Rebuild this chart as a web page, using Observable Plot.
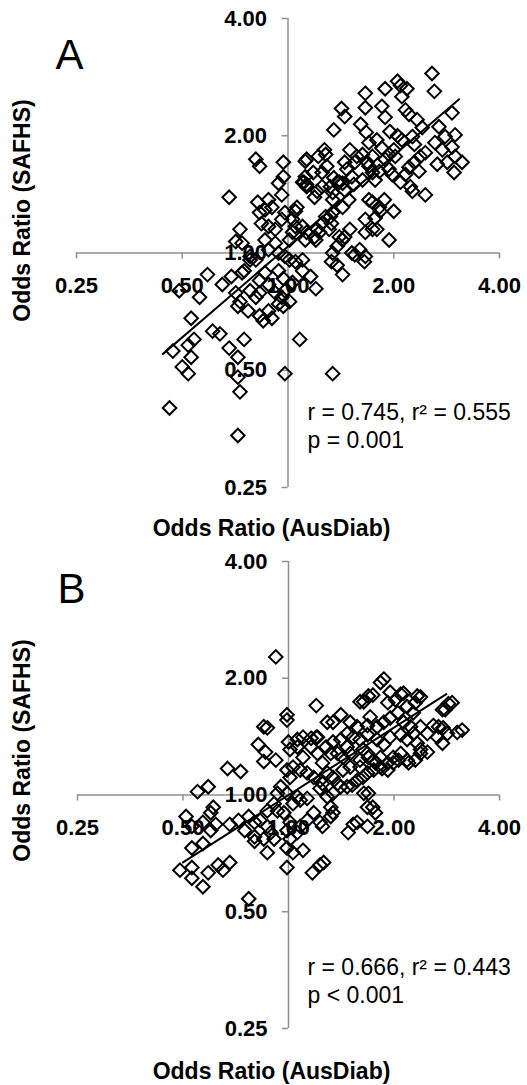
<!DOCTYPE html>
<html><head><meta charset="utf-8">
<script src="https://cdn.jsdelivr.net/npm/d3@7"></script>
<script src="https://cdn.jsdelivr.net/npm/@observablehq/plot@0.6"></script>
<style>body{margin:0;background:#fff;} #chart svg{display:block;}</style>
</head><body><div id="chart"></div>
<script>
// ---------- data ----------
const tickValues = [0.25, 0.5, 1, 2, 4];
const xTitle = "Odds Ratio (AusDiab)";
const yTitle = "Odds Ratio (SAFHS)";
const panelLetters = ["A", "B"];
const statsA = ["r = 0.745, r\u00B2 = 0.555", "p = 0.001"];
const statsB = ["r = 0.666, r\u00B2 = 0.443", "p < 0.001"];

// Panel A: odds ratios
const ausdiabA = [
2.57,2.61,1.66,1.89,2.05,2.09,2.18,2.11,1.42,1.45,
1.66,1.85,2.16,2.21,1.61,1.67,1.35,1.89,2.33,2.41,
2.93,2.69,2.99,2.80,2.62,1.95,2.05,2.11,2.26,2.29,
1.79,1.85,1.70,2.93,2.75,2.99,3.13,2.84,2.97,2.66,
2.46,2.38,2.36,2.21,2.29,2.16,2.23,2.26,2.46,2.09,
1.98,1.94,1.82,2.02,2.00,1.89,1.94,1.74,1.68,1.63,
1.57,1.55,1.50,1.45,1.47,1.70,1.74,1.77,1.52,1.54,
1.63,1.43,1.38,1.45,1.34,1.49,1.43,1.70,1.74,1.82,
1.88,1.83,2.00,1.66,1.77,1.79,1.74,1.66,1.94,1.50,
1.45,1.60,1.66,1.55,1.34,1.32,1.33,1.28,1.31,1.25,
1.21,1.23,1.19,1.20,1.40,1.38,1.34,1.43,1.33,1.12,
1.18,1.13,1.11,1.19,1.21,1.27,1.28,1.22,1.29,1.25,
1.35,1.40,1.25,1.32,1.34,0.97,0.94,0.97,0.81,0.83,
0.68,0.82,0.88,0.90,0.96,1.06,1.05,0.83,0.86,0.84,
0.88,0.92,0.98,0.96,1.03,1.05,1.10,1.03,1.01,1.12,
1.13,0.73,0.71,0.74,0.86,0.88,0.92,0.94,0.98,1.01,
1.10,0.78,0.81,1.13,1.12,1.13,1.10,1.65,1.38,1.43,
1.20,1.16,1.10,1.05,0.59,0.49,0.56,0.53,0.65,0.69,
0.74,0.71,0.73,0.72,0.77,0.78,0.81,0.83,0.83,0.86,
0.88,0.92,0.96,0.98,0.94,0.97,1.01,0.83,0.85,0.90,
0.88,0.78,0.75,0.94,0.97,1.03,0.61,0.64,0.54,0.52,
0.47,0.53,0.50,0.52,0.68,0.72,0.75,1.08,0.98,1.34,
0.72,0.73,0.46,0.72,1.52];
const safhsA = [
2.89,2.60,2.57,2.64,2.76,2.69,2.64,2.52,2.35,2.24,
2.36,2.38,2.33,2.27,2.14,2.04,2.07,2.23,2.20,2.10,
2.29,2.11,2.01,1.99,1.92,2.05,2.00,1.95,1.99,1.90,
1.95,1.86,1.92,1.87,1.84,1.77,1.71,1.71,1.61,1.69,
1.81,1.77,1.62,1.66,1.71,1.59,1.48,1.44,1.41,1.52,
1.59,1.64,1.62,1.77,1.84,1.74,1.79,1.77,1.71,1.79,
1.77,1.71,1.84,1.71,1.64,1.67,1.61,1.54,1.57,1.50,
1.54,1.51,1.52,1.45,1.37,1.37,1.31,1.37,1.35,1.31,
1.37,1.28,1.28,1.22,1.23,1.15,1.15,1.13,1.08,1.15,
1.10,1.02,0.98,0.99,1.27,1.24,1.19,1.24,1.15,1.19,
1.15,1.13,1.10,1.08,1.10,1.04,1.00,1.08,0.95,1.72,
1.61,1.50,1.52,1.39,1.44,1.84,1.79,1.77,1.67,1.61,
1.56,1.52,1.48,1.48,1.43,1.71,1.51,1.57,1.74,1.67,
1.39,1.35,1.37,1.31,1.41,1.31,1.28,1.27,1.29,1.19,
1.17,1.15,1.27,1.22,1.22,1.17,1.17,1.13,1.08,1.08,
1.13,1.15,1.07,1.06,1.08,1.02,1.06,1.00,0.98,0.96,
0.96,0.98,0.96,1.74,1.57,1.48,1.52,0.95,0.93,0.88,
0.81,0.87,0.90,0.95,0.88,0.80,0.77,0.68,0.83,0.87,
0.89,0.79,0.75,0.73,0.71,0.80,0.77,0.79,0.85,0.89,
0.83,0.79,0.77,0.80,0.74,0.73,0.75,0.69,0.67,0.68,
0.71,0.96,0.90,0.90,0.86,0.84,0.63,0.62,0.60,0.58,
0.56,0.54,0.51,0.49,0.57,0.54,0.60,0.60,0.49,0.49,
0.48,0.44,0.40,0.34,1.00];
const trendAx = [0.44, 3.07];
const trendAy = [0.55, 2.48];

// Panel B: odds ratios
const ausdiabB = [
0.92,1.87,1.83,1.69,1.95,2.09,2.33,1.60,2.86,2.75,
1.20,1.92,2.02,2.18,2.27,0.99,0.99,1.41,1.29,1.34,
1.50,1.57,1.71,1.68,1.79,1.87,1.95,2.05,2.13,2.23,
2.38,2.49,2.59,2.76,2.84,3.03,2.66,2.75,0.85,1.47,
1.53,1.41,1.34,1.47,1.60,1.68,1.79,1.87,1.95,2.09,
2.18,2.27,2.33,2.38,1.00,1.06,1.10,1.16,1.21,0.82,
0.86,0.85,0.92,1.01,1.06,1.10,1.16,1.21,1.28,1.32,
1.38,1.43,1.50,1.60,1.68,1.75,1.83,1.92,1.99,2.09,
2.18,2.30,2.38,0.99,1.03,1.08,1.01,1.13,1.18,1.23,
1.29,1.34,1.38,1.43,1.50,1.60,1.68,1.75,1.83,1.92,
1.99,0.67,0.73,0.55,0.59,0.95,0.93,0.99,1.06,1.13,
1.23,1.29,1.34,1.41,1.47,1.57,1.64,1.74,0.61,0.60,
0.51,0.53,0.57,0.60,0.62,0.68,0.72,0.77,0.80,0.75,
0.80,0.83,0.87,0.89,0.85,0.91,0.80,0.87,0.53,0.57,
0.49,0.53,0.53,0.57,0.59,0.63,0.65,0.68,0.77,0.99,
1.01,1.03,1.10,0.99,1.17,1.23,0.93,0.97,1.01,1.08,
1.13,1.18,1.23,1.03,1.08,1.32,1.34,1.32,1.48,1.53,
1.68,1.77,1.68,0.87,0.91,0.99,1.06,0.87,1.64,1.74,
2.13,2.38,2.30,2.93,2.80,3.13,2.68,1.63,1.69,1.77,
1.85,2.06,2.20,2.49,1.52,1.69,1.63,1.25,1.25,1.20,
1.25,1.57,1.26];
const safhsB = [
2.27,1.99,1.95,1.80,1.84,1.82,1.80,1.74,1.72,1.66,
1.70,1.73,1.76,1.69,1.63,1.61,1.56,1.61,1.54,1.54,
1.54,1.50,1.59,1.51,1.50,1.54,1.58,1.63,1.54,1.50,
1.50,1.44,1.51,1.49,1.44,1.45,1.41,1.36,1.50,1.44,
1.41,1.39,1.37,1.33,1.39,1.43,1.39,1.35,1.41,1.43,
1.39,1.44,1.36,1.31,1.37,1.39,1.41,1.40,1.41,1.35,
1.29,1.22,1.23,1.31,1.33,1.25,1.33,1.28,1.33,1.28,
1.28,1.25,1.28,1.23,1.28,1.23,1.25,1.21,1.25,1.28,
1.23,1.23,1.28,1.16,1.18,1.16,1.11,1.14,1.11,1.09,
1.14,1.11,1.07,1.16,1.18,1.18,1.14,1.16,1.18,1.16,
1.21,1.17,1.15,1.02,1.05,1.05,1.01,1.01,0.99,0.98,
1.04,0.99,1.01,1.05,1.05,1.09,1.01,0.93,0.93,0.90,
0.88,0.83,0.85,0.81,0.84,0.84,0.86,0.88,0.85,0.81,
0.78,0.86,0.83,0.80,0.77,0.77,0.76,0.71,0.73,0.75,
0.64,0.65,0.61,0.58,0.63,0.66,0.64,0.67,0.54,0.73,
0.77,0.71,0.72,0.65,0.63,0.66,0.91,0.90,0.85,0.83,
0.86,0.90,0.85,0.95,0.97,0.93,0.90,0.88,0.80,0.84,
0.93,0.90,0.83,0.91,0.95,0.81,0.80,1.49,1.74,1.81,
1.83,1.79,1.73,1.73,1.66,1.47,1.50,1.31,1.25,1.21,
1.17,1.23,1.21,1.29,1.06,1.01,1.11,1.21,1.07,1.41,
0.83,0.85,0.67];
const trendBx = [0.50, 2.82];
const trendBy = [0.67, 1.82];

// ---------- drawing ----------
const W = 527, H = 542;
const FONT = "'Liberation Sans', Arial, Helvetica, sans-serif";
const AXIS = "#8f8f8f";
const fmt = d3.format(".2f");

function panel(cfg) {
  const m = cfg.margin;
  const xScale = Plot.scale({x: {type: "log", domain: [0.25, 4], range: [m.left, W - m.right]}});
  const yScale = Plot.scale({y: {type: "log", domain: [0.25, 4], range: [H - m.bottom, m.top]}});
  const x0 = xScale.apply(1), y0 = yScale.apply(1);
  const n = Math.min(cfg.xs.length, cfg.ys.length);
  const pts = d3.range(n).map(i => ({x: cfg.xs[i], y: cfg.ys[i]}));
  const trend = cfg.tx.map((x, i) => ({x, y: cfg.ty[i]}));
  const at = (px, py) => ({frameAnchor: "top-left", dx: px - m.left, dy: py - m.top});
  return Plot.plot({
    width: W, height: H,
    marginLeft: m.left, marginRight: m.right, marginTop: m.top, marginBottom: m.bottom,
    x: {type: "log", domain: [0.25, 4]},
    y: {type: "log", domain: [0.25, 4]},
    style: {fontFamily: FONT, background: "white", color: "black", overflow: "visible"},
    marks: [
      Plot.ruleY([1], {stroke: AXIS, strokeWidth: 1.5}),
      Plot.ruleX([1], {stroke: AXIS, strokeWidth: 1.5}),
      Plot.axisX({ticks: tickValues, tickFormat: fmt, anchor: "bottom", dy: y0 - (H - m.bottom),
        tickSize: 6, tickPadding: 18, stroke: AXIS, strokeWidth: 1.5, fill: "black",
        fontSize: 22, fontWeight: "bold", label: null}),
      Plot.axisY({ticks: tickValues, tickFormat: fmt, anchor: "left", dx: x0 - m.left,
        tickSize: 6, tickPadding: 15, stroke: AXIS, strokeWidth: 1.5, fill: "black",
        fontSize: 22, fontWeight: "bold", label: null}),
      Plot.dot(pts, {x: "x", y: "y", symbol: "diamond2", r: 6.1, stroke: "black", strokeWidth: 2, fill: "none"}),
      Plot.line(trend, {x: "x", y: "y", stroke: "black", strokeWidth: 2}),
      Plot.text([cfg.letter], {...at(cfg.letterPos[0], cfg.letterPos[1]), textAnchor: "start", lineAnchor: "bottom", fontSize: 42, fill: "black"}),
      Plot.text([yTitle], {...at(22, cfg.yTitleY), rotate: -90, textAnchor: "middle", lineAnchor: "middle", fontSize: 23, fontWeight: "bold", fill: "black"}),
      Plot.text([xTitle], {...at(271, cfg.xTitleY), textAnchor: "middle", lineAnchor: "middle", fontSize: 23, fontWeight: "bold", fill: "black"}),
      Plot.text([cfg.stats.join("\n")], {...at(307, cfg.statsY), textAnchor: "start", lineAnchor: "top", fontSize: 23, lineHeight: 1.22, fill: "black"})
    ]
  });
}

const chart = document.getElementById("chart");
chart.append(panel({
  margin: {left: 76, right: 28, top: 18, bottom: 55},
  xs: ausdiabA, ys: safhsA, tx: trendAx, ty: trendAy,
  letter: panelLetters[0], letterPos: [55, 68], yTitleY: 210, xTitleY: 528,
  stats: statsA, statsY: 400
}));
chart.append(panel({
  margin: {left: 77, right: 28, top: 19, bottom: 56},
  xs: ausdiabB, ys: safhsB, tx: trendBx, ty: trendBy,
  letter: panelLetters[1], letterPos: [57, 60], yTitleY: 208, xTitleY: 529,
  stats: statsB, statsY: 413
}));
</script>
</body></html>
